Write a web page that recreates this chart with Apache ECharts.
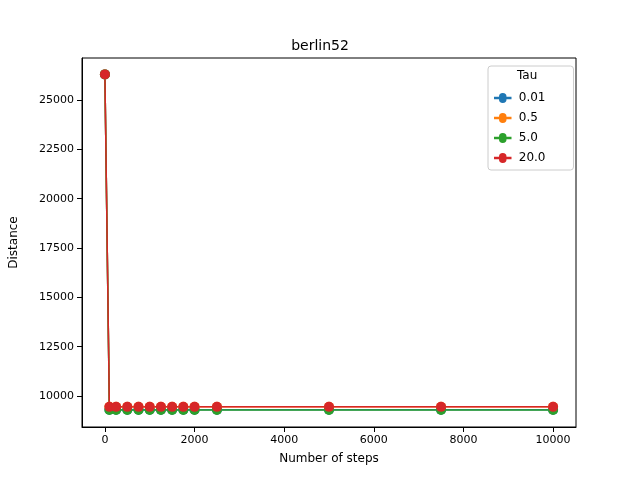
<!DOCTYPE html>
<html><head><meta charset="utf-8">
<script src="https://cdn.jsdelivr.net/npm/echarts@6/dist/echarts.min.js"></script>
<style>html,body{margin:0;padding:0}#c{width:640px;height:480px}</style>
</head><body><div id="c"></div>
<script>
const steps = [0,100,250,500,750,1000,1250,1500,1750,2000,2500,5000,7500,10000];
const tauNames = ['0.01','0.5','5.0','20.0'];
const d001 = [26300,9300,9300,9300,9300,9300,9300,9300,9300,9300,9300,9300,9300,9300];
const d05  = [26300,9450,9450,9450,9450,9450,9450,9450,9450,9450,9450,9450,9450,9450];
const d5   = [26300,9290,9290,9290,9290,9290,9290,9290,9290,9290,9290,9290,9290,9290];
const d20  = [26300,9450,9450,9450,9450,9450,9450,9450,9450,9450,9450,9450,9450,9450];
const xTicks = [0,2000,4000,6000,8000,10000];
const yTicks = [10000,12500,15000,17500,20000,22500,25000];
const colors = ['#1f77b4','#ff7f0e','#2ca02c','#d62728'];
const all = [d001,d05,d5,d20];
const chart = echarts.init(document.getElementById('c'));
const font = 'DejaVu Sans';
chart.setOption({
  animation:false,
  title:{text:'berlin52',left:'center',top:34,textStyle:{fontFamily:font,fontSize:14,fontWeight:'normal',color:'#000'}},
  legend:{orient:'vertical',left:488,top:66,data:tauNames,icon:'path://M0,4L4,4A3,3 0 1 1 10,4L14,4L14,6L10,6A3,3 0 1 1 4,6L0,6Z',itemWidth:22,itemHeight:10,
    textStyle:{fontFamily:font,fontSize:12,color:'#000'},borderColor:'#ccc',borderWidth:1,borderRadius:3,padding:[26,28,6,6],itemGap:8},
  graphic:[{type:'text',left:517,top:70,style:{text:'Tau',font:'12px DejaVu Sans',fill:'#000'}}],
  grid:{left:80,right:64,top:58,bottom:53,show:true,borderColor:'#000',borderWidth:1},
  xAxis:{type:'value',min:-511,max:10511,
    name:'Number of steps',nameLocation:'middle',nameGap:26,nameTextStyle:{fontFamily:font,fontSize:12,color:'#000'},
    axisLine:{onZero:false,lineStyle:{color:'#000'}},splitLine:{show:false},
    axisLabel:{fontFamily:font,fontSize:11,color:'#000',customValues:xTicks,formatter:v=>String(v)},
    axisTick:{show:true,customValues:xTicks,lineStyle:{color:'#000'}}},
  yAxis:{type:'value',min:8430,max:27130,
    name:'Distance',nameLocation:'middle',nameGap:62,nameTextStyle:{fontFamily:font,fontSize:12,color:'#000'},
    axisLine:{show:true,onZero:false,lineStyle:{color:'#000'}},splitLine:{show:false},
    axisLabel:{fontFamily:font,fontSize:11,color:'#000',customValues:yTicks,formatter:v=>String(v)},
    axisTick:{show:true,customValues:yTicks,lineStyle:{color:'#000'}}},
  series: all.map((d,i)=>({name:tauNames[i],type:'line',data:steps.map((s,j)=>[s,d[j]]),
    symbol:'circle',symbolSize:10,color:colors[i],lineStyle:{width:1.5},itemStyle:{color:colors[i]}}))
});
</script></body></html>
